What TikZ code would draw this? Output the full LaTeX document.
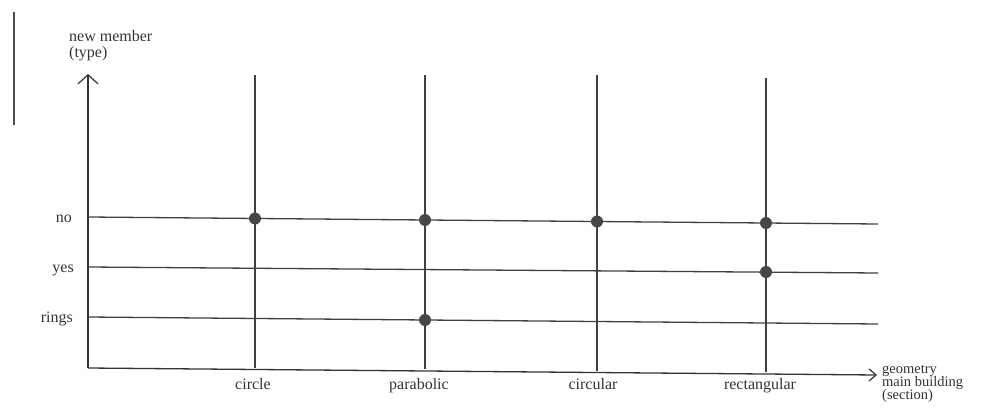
\documentclass[tikz,border=0pt]{standalone}
\usepackage{fontspec}
\setmainfont{Liberation Serif}
\usetikzlibrary{arrows.meta}
\begin{document}
\begin{tikzpicture}[x=1pt,y=-1pt,
  axis/.style={line width=1.3pt, draw=black!80},
  gridline/.style={line width=1.3pt, draw=black!75},
  dot/.style={circle, fill=black!72, inner sep=0pt, minimum size=12pt},
  lbl/.style={font=\fontsize{16}{12}\selectfont, text=black!80, inner sep=0pt},
  slbl/.style={font=\fontsize{14.5}{12}\selectfont, text=black!80, inner sep=0pt},
  barbY/.style={-{Straight Barb[length=9pt,width=20pt,line width=1.2pt]}},
  barbX/.style={-{Straight Barb[length=7pt,width=12pt,line width=1.2pt]}}]
\useasboundingbox (0,0) rectangle (990,412);
% scan margin line
\draw[line width=1.3pt, draw=black!70] (14,12) -- (14,125);
% axes
\coordinate (O) at (88,368);
\coordinate (ytip) at (88,74);
\coordinate (xtip) at (877,375);
\draw[axis,barbY] (O) -- (ytip);
\draw[axis,barbX] (O) -- (xtip);
% horizontal levels
\coordinate (noL) at (88,217);  \coordinate (noR) at (878,224);
\coordinate (yesL) at (88,267); \coordinate (yesR) at (878,273);
\coordinate (riL) at (88,317);  \coordinate (riR) at (878,324);
\draw[gridline] (noL) -- (noR);
\draw[gridline] (yesL) -- (yesR);
\draw[gridline] (riL) -- (riR);
% vertical categories
\coordinate (c1t) at (255,75);  \coordinate (c1b) at (255,368);
\coordinate (c2t) at (425,75);  \coordinate (c2b) at (425,369);
\coordinate (c3t) at (597,75);  \coordinate (c3b) at (597,371);
\coordinate (c4t) at (766,78);  \coordinate (c4b) at (766,372);
\draw[gridline] (c1t) -- (c1b);
\draw[gridline] (c2t) -- (c2b);
\draw[gridline] (c3t) -- (c3b);
\draw[gridline] (c4t) -- (c4b);
% dots
\node[dot] (d1) at (255,218.5) {};
\node[dot] (d2) at (425,220) {};
\node[dot] (d3) at (425,320) {};
\node[dot] (d4) at (597,221.5) {};
\node[dot] (d5) at (766,223) {};
\node[dot] (d6) at (766,272) {};
% level labels
\node[lbl, anchor=base east] (lno) at (72,222) {no};
\node[lbl, anchor=base east] (lyes) at (74,272) {yes};
\node[lbl, anchor=base east] (lri) at (73,322) {rings};
% category labels
\node[lbl, anchor=base] (k1) at (253,389) {circle};
\node[lbl, anchor=base] (k2) at (419,389) {parabolic};
\node[lbl, anchor=base] (k3) at (593,389) {circular};
\node[lbl, anchor=base] (k4) at (760,389) {rectangular};
% axis titles
\node[lbl, anchor=base west] (yt1) at (69,42) {new member};
\node[lbl, anchor=base west] (yt2) at (69,58) {(type)};
\node[slbl, anchor=base west] (xt1) at (882,373) {geometry};
\node[slbl, anchor=base west] (xt2) at (882,386) {main building};
\node[slbl, anchor=base west] (xt3) at (882,399) {(section)};
\end{tikzpicture}
\end{document}
